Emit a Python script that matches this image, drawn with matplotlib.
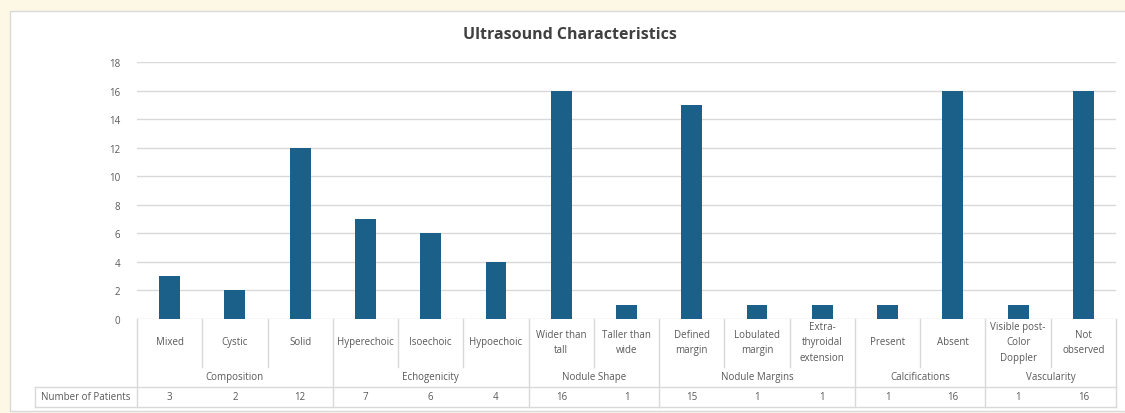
import matplotlib
matplotlib.use("Agg")
import matplotlib.pyplot as plt
from matplotlib.transforms import blended_transform_factory
from matplotlib.patches import Rectangle
from matplotlib.lines import Line2D

categories = ["Mixed", "Cystic", "Solid", "Hyperechoic", "Isoechoic", "Hypoechoic",
              "Wider than\ntall", "Taller than\nwide", "Defined\nmargin", "Lobulated\nmargin",
              "Extra-\nthyroidal\nextension", "Present", "Absent",
              "Visible post-\nColor\nDoppler", "Not\nobserved"]
values = [3, 2, 12, 7, 6, 4, 16, 1, 15, 1, 1, 1, 16, 1, 16]
groups = ["Composition", "Echogenicity", "Nodule Shape", "Nodule Margins",
          "Calcifications", "Vascularity"]
group_sizes = [3, 3, 2, 3, 2, 2]
yticks = [0, 2, 4, 6, 8, 10, 12, 14, 16, 18]
title = "Ultrasound Characteristics"
row_label = "Number of Patients"

W, H = 1125, 414
fig = plt.figure(figsize=(W / 100, H / 100), dpi=100)
fig.patch.set_facecolor("#fdf8e6")
plt.rcParams['font.family'] = ['Open Sans', 'DejaVu Sans']

def fy(py):
    return 1 - py / H

def fx(px):
    return px / W

# white chart box
fig.patches.append(Rectangle((fx(10), fy(412)), fx(1125) - fx(10) + 0.01, fy(12) - fy(412),
                             transform=fig.transFigure, facecolor="white",
                             edgecolor="#d9d9d9", linewidth=1.0, zorder=-5))

ax = fig.add_axes([fx(137), fy(320), fx(1116) - fx(137), fy(63) - fy(320)])
ax.set_zorder(2)
ax.set_facecolor("none")
n = len(categories)
x = list(range(n))
ax.bar(x, values, width=0.32, color="#1a6089", zorder=3)
ax.set_xlim(-0.5, n - 0.5)
ax.set_ylim(0, 18)
ax.set_yticks(yticks)
ax.set_yticklabels([str(t) for t in yticks], fontsize=7, color="#595959")
ax.tick_params(axis="y", length=0, pad=12)
ax.set_xticks([])
ax.grid(axis="y", color="#d9d9d9", linewidth=1, zorder=0)
for s in ax.spines.values():
    s.set_visible(False)

fig.text(fx(570), fy(35), title, ha="center", va="center", fontsize=11.5,
         fontweight="bold", color="#404040")

tr = blended_transform_factory(ax.transData, fig.transFigure)
lc = "#d9d9d9"
txtc = "#595959"
fs = 7

# group boundaries
bounds = [0]
for g in group_sizes:
    bounds.append(bounds[-1] + g)

for i in range(n + 1):
    xb = i - 0.5
    if i in bounds:
        fig.add_artist(Line2D([xb, xb], [fy(320), fy(408)], transform=tr, color=lc, lw=1))
    else:
        fig.add_artist(Line2D([xb, xb], [fy(320), fy(368)], transform=tr, color=lc, lw=1))

# horizontal lines of the data row
fig.add_artist(Line2D([fx(35), fx(1116)], [fy(388), fy(388)], transform=fig.transFigure, color=lc, lw=1))
fig.add_artist(Line2D([fx(35), fx(1116)], [fy(408), fy(408)], transform=fig.transFigure, color=lc, lw=1))
fig.add_artist(Line2D([fx(35), fx(35)], [fy(388), fy(408)], transform=fig.transFigure, color=lc, lw=1))

for i, (c, v) in enumerate(zip(categories, values)):
    fig.text(i, fy(343), c, transform=tr, ha="center", va="center", fontsize=fs,
             color=txtc, linespacing=1.6)
    fig.text(i, fy(397.5), str(v), transform=tr, ha="center", va="center", fontsize=fs,
             color=txtc)

for gi, g in enumerate(groups):
    center = (bounds[gi] + bounds[gi + 1] - 1) / 2
    fig.text(center, fy(378), g, transform=tr, ha="center", va="center", fontsize=fs,
             color=txtc)

fig.text(fx(86), fy(397.5), row_label, ha="center", va="center", fontsize=fs, color=txtc)

fig.savefig("out.png", dpi=100, facecolor=fig.get_facecolor())
